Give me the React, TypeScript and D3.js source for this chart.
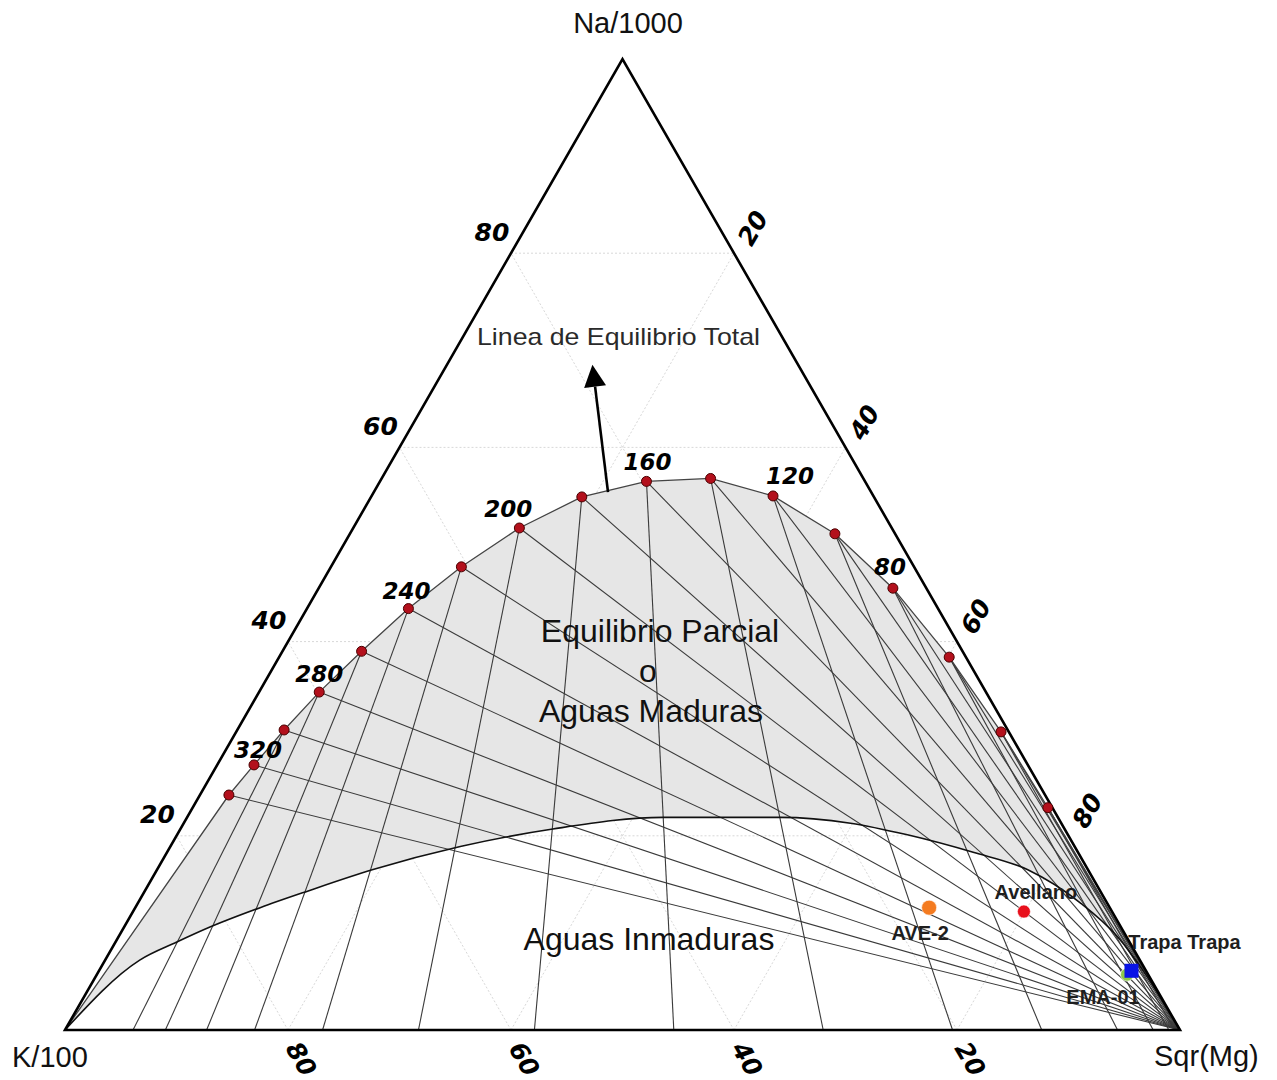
import React from 'react';
import * as d3 from 'd3';

// Full-equilibrium line (Giggenbach): temperature (°C) and ternary position (% Na/1000, % Sqr(Mg))
const temperatures = [340, 320, 300, 280, 260, 240, 220, 200, 180, 160, 140, 120, 100, 80, 60, 40, 20];
const eqNa = [24.2, 27.3, 30.9, 34.8, 39.0, 43.4, 47.7, 51.7, 54.9, 56.5, 56.8, 55.0, 51.1, 45.5, 38.4, 30.7, 22.9];
const eqMg = [2.6, 3.3, 4.2, 5.4, 7.1, 9.1, 11.7, 14.9, 18.9, 23.9, 29.5, 36.0, 43.5, 51.5, 60.1, 68.6, 76.7];
// K-Mg isotherm end on the K-Mg side (% Sqr(Mg) along the base); null = not drawn
const kMgBaseMg: (number | null)[] = [null, null, 6.1, 9.0, 12.7, 17.0, 23.1, 31.7, 42.1, 54.6, 68.0, 79.6, 87.6, 94.4, 97.6, 99.0, 99.5];
const labelledTemps = [320, 280, 240, 200, 160, 120, 80];

// Immature-water boundary (% Na/1000, % Sqr(Mg))
const immNa = [0, 7.2, 9.06, 10.6, 12.6, 14.3, 16.5, 18.9, 20.7, 21.9, 21.9, 21.3, 20.1, 18.3, 16.5, 13.1, 9.6, 5.5, 0];
const immMg = [0, 3.1, 5.5, 7.7, 11.2, 14.6, 19.3, 26.0, 33.4, 42.7, 53.2, 59.8, 65.5, 72.3, 78.1, 84.5, 89.6, 94.3, 100];

// Samples
const sampleNames = ['AVE-2', 'Avellano', 'EMA-01', 'Trapa Trapa'];
const sampleNa = [12.6, 12.2, 5.7, 6.1];
const sampleMg = [71.2, 79.9, 92.4, 92.6];
const sampleColors = ['#f47b20', '#e8101c', '#8cc84b', '#0a14e6'];
const sampleShapes = ['circle', 'circle', 'circle', 'square'];
const sampleSizes = [7.5, 6.5, 6.5, 14];

// Axis ticks
const gridTicks = [20, 40, 60, 80];
const axisTitles = ['Na/1000', 'K/100', 'Sqr(Mg)'];

// Arrow toward full-equilibrium label (% Na, % Mg)
const arrowFrom = [55.4, 21.0];
const arrowTo = [68.5, 13.05];

// ---------- layout ----------
const W = 1277;
const H = 1080;
const xS = d3.scaleLinear().domain([0, 1]).range([65, 1180]);
const yS = d3.scaleLinear().domain([0, 1]).range([1030, 59]);
const P = (na: number, mg: number): [number, number] => {
  const n = na / 100;
  const m = mg / 100;
  return [xS(m + n / 2), yS(n)];
};

const tempLabelOffsets: Record<number, [number, number]> = {
  320: [4, -15], 280: [0, -18], 240: [-2, -18], 200: [-11, -19], 160: [1, -19], 120: [17, -20], 80: [-3, -21],
};
const sampleLabelOffsets: [number, number][] = [[-9, 32], [12, -13], [-24, 29], [53, -22]];

const lineGen = d3.line<[number, number]>();
const curveGen = d3.line<[number, number]>().curve(d3.curveMonotoneX);

export default function App() {
  const Kv = P(0, 0);
  const Mv = P(0, 100);
  const Nv = P(100, 0);
  const eqPts = eqNa.map((n, i) => P(n, eqMg[i]));
  const immPts = immNa.map((n, i) => P(n, immMg[i]));

  const topPath = lineGen([Kv, ...eqPts, Mv]) as string;
  const immPath = curveGen(immPts) as string;
  const areaPath = immPath + 'L' + (lineGen([...eqPts].reverse()) as string).slice(1) + 'Z';

  const grid: [number, number][][] = [];
  gridTicks.forEach((t) => {
    grid.push([P(t, 0), P(t, 100 - t)]);
    grid.push([P(0, t), P(100 - t, t)]);
    grid.push([P(0, 100 - t), P(100 - t, 0)]);
  });

  const naKLines = eqPts.map((p) => [p, Mv]);
  const kMgLines = kMgBaseMg
    .map((b, i) => (b === null ? null : [eqPts[i], P(0, b)]))
    .filter((l) => l !== null) as [number, number][][];

  const a0 = P(arrowFrom[0], arrowFrom[1]);
  const a1 = P(arrowTo[0], arrowTo[1]);
  const dx = a1[0] - a0[0];
  const dy = a1[1] - a0[1];
  const len = Math.hypot(dx, dy);
  const ux = dx / len, uy = dy / len;
  const headL = 22, headW = 11;
  const base: [number, number] = [a1[0] - ux * headL, a1[1] - uy * headL];
  const head = [
    a1,
    [base[0] - uy * headW, base[1] + ux * headW],
    [base[0] + uy * headW, base[1] - ux * headW],
  ];

  const tickFont = { fontFamily: 'DejaVu Sans', fontWeight: 700, fontStyle: 'italic' as const, fontSize: 25, fill: '#000' };
  const titleFont = { fontFamily: 'Liberation Sans, Arial', fontSize: 29, fill: '#111' };
  const regionFont = { fontFamily: 'Liberation Sans, Arial', fontSize: 32, fill: '#111' };

  return (
    <svg width={W} height={H} style={{ position: 'absolute', left: 0, top: 0, background: '#fff' }}>
      <rect x={0} y={0} width={W} height={H} fill="#fff" />
      {grid.map((g, i) => (
        <line key={'g' + i} x1={g[0][0]} y1={g[0][1]} x2={g[1][0]} y2={g[1][1]} stroke="#d8d8d8" strokeWidth={1} strokeDasharray="2,2" />
      ))}
      <path d={areaPath} fill="#e6e6e6" stroke="none" />
      {naKLines.map((l, i) => (
        <line key={'nk' + i} x1={l[0][0]} y1={l[0][1]} x2={l[1][0]} y2={l[1][1]} stroke="#3a3a3a" strokeWidth={1.1} />
      ))}
      {kMgLines.map((l, i) => (
        <line key={'km' + i} x1={l[0][0]} y1={l[0][1]} x2={l[1][0]} y2={l[1][1]} stroke="#3a3a3a" strokeWidth={1.1} />
      ))}
      <path d={topPath} fill="none" stroke="#444" strokeWidth={1.3} />
      <path d={immPath} fill="none" stroke="#111" strokeWidth={1.6} />
      <path d={lineGen([Kv, Nv, Mv, Kv]) + 'Z'} fill="none" stroke="#000" strokeWidth={2.6} strokeLinejoin="miter" />
      <line x1={a0[0]} y1={a0[1]} x2={base[0]} y2={base[1]} stroke="#000" strokeWidth={2.6} />
      <polygon points={head.map((p) => p.join(',')).join(' ')} fill="#000" />
      {eqPts.map((p, i) => (
        <circle key={'e' + i} cx={p[0]} cy={p[1]} r={5} fill="#b3101c" stroke="#4a0000" strokeWidth={1} />
      ))}
      {temperatures.map((t, i) => {
        if (!labelledTemps.includes(t)) return null;
        const o = tempLabelOffsets[t];
        return (
          <text key={'t' + t} x={eqPts[i][0] + o[0]} y={eqPts[i][1] + o[1]} textAnchor="middle" dominantBaseline="central" {...tickFont} fontSize={23}>
            {t}
          </text>
        );
      })}
      {gridTicks.map((t) => {
        const p = P(t, 0);
        return (
          <text key={'l' + t} x={p[0] - 19} y={p[1] - 21} textAnchor="middle" dominantBaseline="central" {...tickFont}>
            {t}
          </text>
        );
      })}
      {gridTicks.map((t) => {
        const p = P(100 - t, t);
        const x = p[0] + 19, y = p[1] - 25;
        return (
          <text key={'r' + t} x={x} y={y} textAnchor="middle" dominantBaseline="central" transform={`rotate(-60 ${x} ${y})`} {...tickFont}>
            {t}
          </text>
        );
      })}
      {gridTicks.map((t) => {
        const p = P(0, 100 - t);
        const x = p[0] + 13, y = p[1] + 29;
        return (
          <text key={'b' + t} x={x} y={y} textAnchor="middle" dominantBaseline="central" transform={`rotate(60 ${x} ${y})`} {...tickFont}>
            {t}
          </text>
        );
      })}
      <text x={628} y={33} textAnchor="middle" {...titleFont}>{axisTitles[0]}</text>
      <text x={12} y={1067} textAnchor="start" {...titleFont}>{axisTitles[1]}</text>
      <text x={1154} y={1066} textAnchor="start" {...titleFont}>{axisTitles[2]}</text>
      <text x={618.5} y={345} textAnchor="middle" fontFamily="Liberation Sans, Arial" fontSize={24} fill="#2a2a2a" textLength={283} lengthAdjust="spacingAndGlyphs">
        Linea de Equilibrio Total
      </text>
      <text x={660} y={642} textAnchor="middle" {...regionFont}>Equilibrio Parcial</text>
      <text x={648} y={682} textAnchor="middle" {...regionFont}>o</text>
      <text x={651} y={722} textAnchor="middle" {...regionFont}>Aguas Maduras</text>
      <text x={649} y={950} textAnchor="middle" {...regionFont}>Aguas Inmaduras</text>
      {sampleNames.map((s, i) => {
        const p = P(sampleNa[i], sampleMg[i]);
        const sz = sampleSizes[i];
        return sampleShapes[i] === 'square' ? (
          <rect key={'s' + i} x={p[0] - sz / 2} y={p[1] - sz / 2} width={sz} height={sz} fill={sampleColors[i]} />
        ) : (
          <circle key={'s' + i} cx={p[0]} cy={p[1]} r={sz} fill={sampleColors[i]} stroke="#fff" strokeOpacity={0.6} strokeWidth={1} />
        );
      })}
      {sampleNames.map((s, i) => {
        const p = P(sampleNa[i], sampleMg[i]);
        const o = sampleLabelOffsets[i];
        return (
          <text key={'sl' + i} x={p[0] + o[0]} y={p[1] + o[1]} textAnchor="middle" fontFamily="Liberation Sans, Arial" fontWeight={700} fontSize={20} fill="#1e1e1e">
            {s}
          </text>
        );
      })}
    </svg>
  );
}
